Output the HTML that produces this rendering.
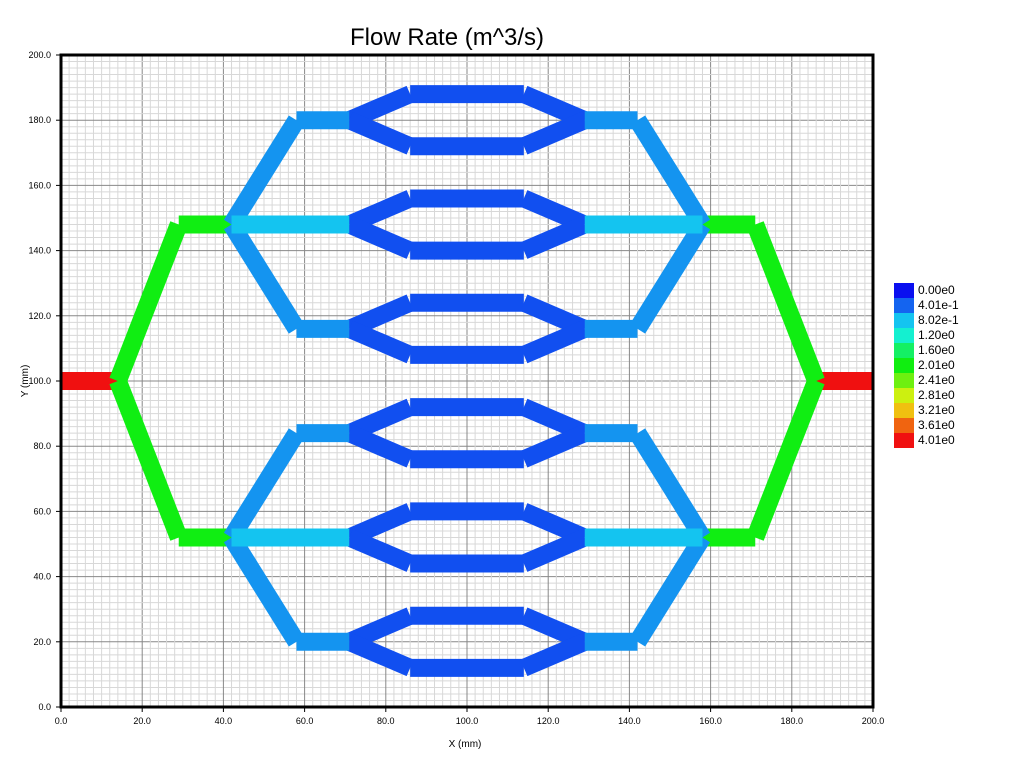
<!DOCTYPE html>
<html><head><meta charset="utf-8"><style>
html,body{margin:0;padding:0;background:#fff;}
svg text{font-family:"Liberation Sans",sans-serif;}
</style></head><body>
<svg id="chart" width="1024" height="768" xmlns="http://www.w3.org/2000/svg">
<text x="447" y="45" font-size="24" text-anchor="middle">Flow Rate (m^3/s)</text>
<g id="grid"></g>
<g id="pipes"></g>
<rect x="61" y="55" width="812" height="652" fill="none" stroke="#000" stroke-width="3"/>
<g id="axes"></g>
<text x="465" y="747" font-size="10" text-anchor="middle">X (mm)</text>
<text x="0" y="0" font-size="10" text-anchor="middle" transform="translate(28,381) rotate(-90)">Y (mm)</text>
<g id="legend"></g>
</svg>
<script>
const xTicks=[0,20,40,60,80,100,120,140,160,180,200];
const yTicks=[0,20,40,60,80,100,120,140,160,180,200];
const legendValues=[0,0.401,0.802,1.20,1.60,2.01,2.41,2.81,3.21,3.61,4.01];
const legendLabels=["0.00e0","4.01e-1","8.02e-1","1.20e0","1.60e0","2.01e0","2.41e0","2.81e0","3.21e0","3.61e0","4.01e0"];
const legendColors=["#0a0ff0","#1464f0","#14c4f0","#14f0d0","#14f064","#10ee10","#6ef010","#ccf010","#f0c010","#f06410","#f01010"];
const pipePaths=[
 [[0,100],[14,100]],[[186,100],[200,100]],
 [[14,100],[29,148],[42,148]],[[14,100],[29,52],[42,52]],
 [[186,100],[171,148],[158,148]],[[186,100],[171,52],[158,52]],
 [[42,148],[58,180],[71,180]],[[42,148],[58,116],[71,116]],
 [[158,148],[142,180],[129,180]],[[158,148],[142,116],[129,116]],
 [[42,52],[58,84],[71,84]],[[42,52],[58,20],[71,20]],
 [[158,52],[142,84],[129,84]],[[158,52],[142,20],[129,20]],
 [[42,148],[71,148]],[[129,148],[158,148]],
 [[42,52],[71,52]],[[129,52],[158,52]]
];
const pipeFlows=[4.01,4.01,2.0,2.0,2.0,2.0,0.6,0.6,0.6,0.6,0.6,0.6,0.6,0.6,0.8,0.8,0.8,0.8];
const loopCenters=[180,148,116,84,52,20];
const loopFlows=[0.3,0.3,0.3,0.3,0.3,0.3];

const X0=61,X1=873,Y0=707,Y1=55;
const sx=v=>X0+(X1-X0)*v/200, sy=v=>Y0-(Y0-Y1)*v/200;
const NS="http://www.w3.org/2000/svg";
function mk(t,a,p){const e=document.createElementNS(NS,t);for(const k in a)e.setAttribute(k,a[k]);p.appendChild(e);return e;}
function hex(c){return [1,3,5].map(i=>parseInt(c.substr(i,2),16));}
function color(v){
 for(let i=0;i<legendValues.length-1;i++){
  if(v<=legendValues[i+1]){const t=(v-legendValues[i])/(legendValues[i+1]-legendValues[i]);
   const a=hex(legendColors[i]),b=hex(legendColors[i+1]);
   return "rgb("+a.map((x,j)=>Math.round(x+(b[j]-x)*t)).join(",")+")";}
 }
 return legendColors[legendColors.length-1];
}
const grid=document.getElementById('grid');
for(let v=0;v<=200;v+=2){
 const maj=v%20===0;
 const l1=mk('line',{x1:sx(v),x2:sx(v),y1:Y1,y2:Y0,stroke:maj?'#888':'#d8d8d8','stroke-width':1},grid);
 
 
 const l2=mk('line',{x1:X0,x2:X1,y1:sy(v),y2:sy(v),stroke:maj?'#888':'#d8d8d8','stroke-width':1},grid);
 
 
}
const pipes=document.getElementById('pipes');
function drawPipe(pts,f){
 for(let i=0;i<pts.length-1;i++){
  const p=mk('line',{x1:sx(pts[i][0]),y1:sy(pts[i][1]),x2:sx(pts[i+1][0]),y2:sy(pts[i+1][1]),stroke:color(f),'stroke-width':18,'stroke-linecap':'butt'},pipes);
  
  
 }
}
loopCenters.forEach((c,i)=>{
 drawPipe([[71,c],[86,c+8],[114,c+8],[129,c]],loopFlows[i]);
 drawPipe([[71,c],[86,c-8],[114,c-8],[129,c]],loopFlows[i]);
});
pipePaths.forEach((p,i)=>drawPipe(p,pipeFlows[i]));
const axes=document.getElementById('axes');
xTicks.forEach(v=>{
 const t=mk('line',{x1:sx(v),x2:sx(v),y1:Y0,y2:Y0+5,stroke:'#000'},axes);
 
 
 const tx=mk('text',{x:sx(v),y:724,'font-size':9,'text-anchor':'middle'},axes);tx.textContent=v.toFixed(1);
 
 
});
yTicks.forEach(v=>{
 const t=mk('line',{x1:X0-5,x2:X0,y1:sy(v),y2:sy(v),stroke:'#000'},axes);
 
 
 const tx=mk('text',{x:51,y:sy(v)+3,'font-size':9,'text-anchor':'end'},axes);tx.textContent=v.toFixed(1);
 
 
});
const lg=document.getElementById('legend');
legendLabels.forEach((s,i)=>{
 const r=mk('rect',{x:894,y:283+i*15,width:20,height:15,fill:legendColors[i]},lg);
 
 
 const t=mk('text',{x:918,y:294+i*15,'font-size':12},lg);t.textContent=s;
 
 
});
</script>
</body></html>
